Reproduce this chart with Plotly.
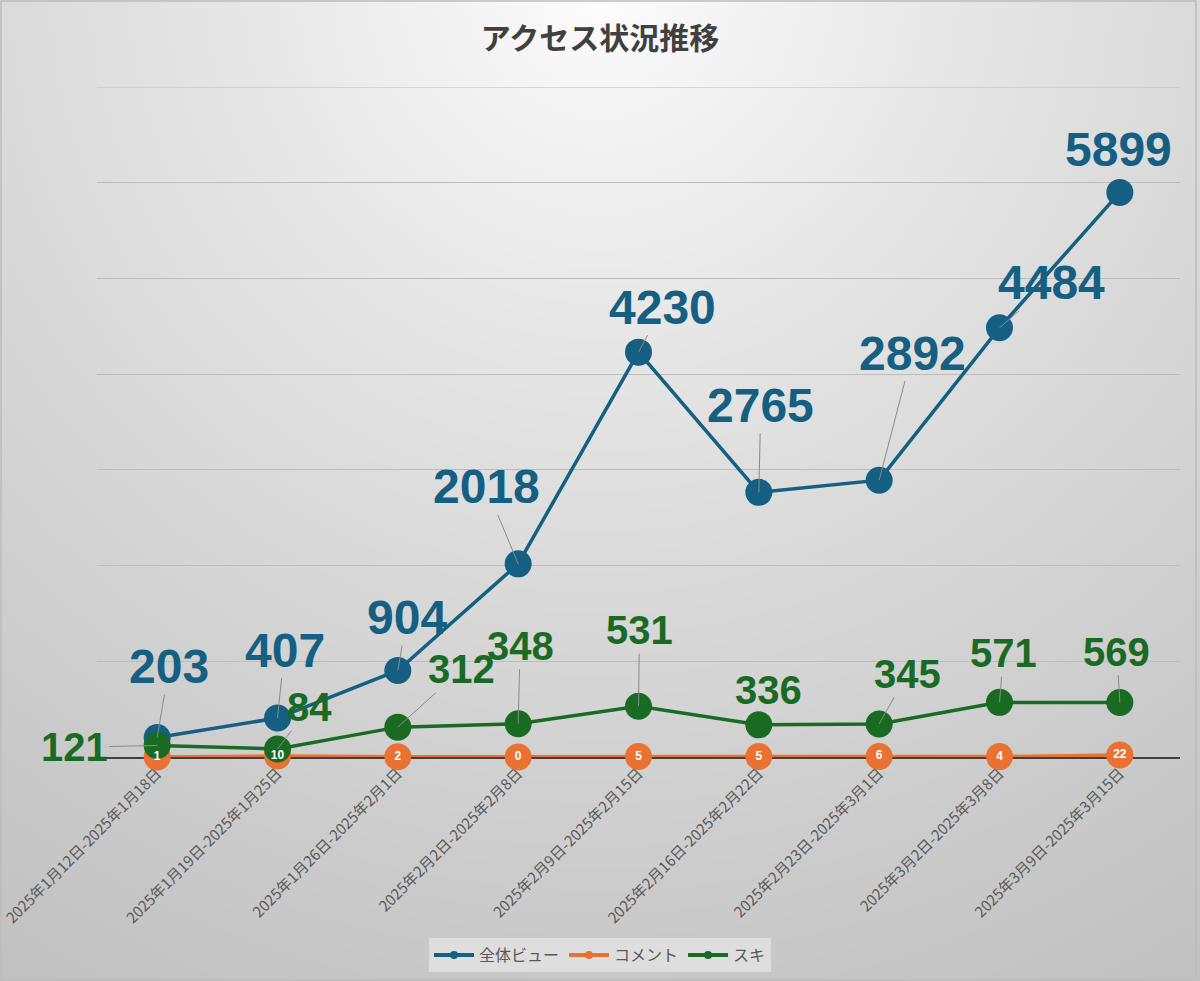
import math
import zlib
import struct
import base64
import plotly.graph_objects as go

# weekly periods
weeks = [
    "2025年1月12日-2025年1月18日",
    "2025年1月19日-2025年1月25日",
    "2025年1月26日-2025年2月1日",
    "2025年2月2日-2025年2月8日",
    "2025年2月9日-2025年2月15日",
    "2025年2月16日-2025年2月22日",
    "2025年2月23日-2025年3月1日",
    "2025年3月2日-2025年3月8日",
    "2025年3月9日-2025年3月15日",
]
views = [203, 407, 904, 2018, 4230, 2765, 2892, 4484, 5899]
comments = [1, 10, 2, 0, 5, 5, 6, 4, 22]
likes = [121, 84, 312, 348, 531, 336, 345, 571, 569]

# label offsets in px (label centre relative to the marker), leader line on/off
views_off = [(12, -71), (7, -68), (9, -53), (-32, -77), (24, -45),
             (2, -87), (33, -127), (52, -45), (-1, -43)]
views_leader = [True, True, True, True, True, True, True, True, False]
likes_off = [(-83, 2), (32, -42), (64, -58), (2, -78), (1, -76),
             (10, -35), (28, -50), (4, -49), (-3, -51)]
likes_leader = [True, True, True, True, True, False, True, True, True]

BLUE = "#156082"
ORANGE = "#E97132"
GREEN = "#196B24"
NUM_FONT = "Liberation Sans, Arial, sans-serif"
JP_FONT = "Noto Sans CJK JP, sans-serif"

W, H = 1200, 981
ML, MR, MT, MB = 97, 20, 87, 224
Y_MAX = 7000


def gradient_png(w, h):
    # radial grey gradient, white at the top centre
    rows = []
    for j in range(h):
        row = bytearray([0])
        for i in range(w):
            dx = (i + 0.5) / w * W - W / 2
            dy = (j + 0.5) / h * H + 20
            d = min(1.0, math.hypot(dx, dy) / 1150)
            g = int(round(255 - 62 * d ** 0.8))
            row += bytes((g, g, g))
        rows.append(bytes(row))
    raw = b"".join(rows)

    def chunk(tag, data):
        return (struct.pack(">I", len(data)) + tag + data
                + struct.pack(">I", zlib.crc32(tag + data) & 0xffffffff))

    png = (b"\x89PNG\r\n\x1a\n"
           + chunk(b"IHDR", struct.pack(">IIBBBBB", w, h, 8, 2, 0, 0, 0))
           + chunk(b"IDAT", zlib.compress(raw, 9))
           + chunk(b"IEND", b""))
    return "data:image/png;base64," + base64.b64encode(png).decode()


fig = go.Figure()

for name, vals, col in [("全体ビュー", views, BLUE),
                        ("コメント", comments, ORANGE),
                        ("スキ", likes, GREEN)]:
    fig.add_trace(go.Scatter(
        x=weeks, y=vals, mode="lines+markers", name=name,
        line=dict(color=col, width=3.5),
        marker=dict(color=col, size=27),
        cliponaxis=False, showlegend=False,
    ))
    # small legend entry
    fig.add_trace(go.Scatter(
        x=[None], y=[None], mode="lines+markers", name=name,
        line=dict(color=col, width=4), marker=dict(color=col, size=8),
    ))

# comment counts drawn inside the orange markers
fig.add_trace(go.Scatter(
    x=weeks, y=comments, mode="text", text=[str(v) for v in comments],
    textposition="middle center",
    textfont=dict(family=NUM_FONT, size=12, color="white", weight="bold"),
    cliponaxis=False, showlegend=False, hoverinfo="skip",
))

annotations = []
for vals, offs, leaders, col, size in [(views, views_off, views_leader, BLUE, 48),
                                       (likes, likes_off, likes_leader, GREEN, 40)]:
    for wk, v, (ax, ay), lead in zip(weeks, vals, offs, leaders):
        annotations.append(dict(
            x=wk, y=v, text=str(v), ax=ax, ay=ay,
            showarrow=True, arrowhead=0, arrowwidth=1, standoff=0,
            arrowcolor="#8a8a8a" if lead else "rgba(0,0,0,0)",
            font=dict(family=NUM_FONT, size=size, color=col, weight="bold"),
        ))

fig.update_layout(
    width=W, height=H,
    margin=dict(l=ML, r=MR, t=MT, b=MB, autoexpand=False),
    paper_bgcolor="#d0d0d0",
    plot_bgcolor="rgba(0,0,0,0)",
    title=dict(text="アクセス状況推移", x=0.5, xref="container", xanchor="center",
               y=1 - 38 / H, yanchor="middle",
               font=dict(family=JP_FONT, size=30, color="#404040", weight="bold")),
    xaxis=dict(type="category", range=[-0.5, 8.5], tickangle=-45, automargin=False,
               tickfont=dict(family=JP_FONT, size=15, color="#595959"),
               showgrid=False, ticks="", showline=True, linecolor="#404040",
               linewidth=1.5, layer="below traces"),
    yaxis=dict(range=[0, Y_MAX], dtick=1000, showticklabels=False, automargin=False,
               gridcolor="#bdbdbd", gridwidth=1, zeroline=False, ticks=""),
    legend=dict(orientation="h", xref="container", x=0.5, xanchor="center",
                yref="container", y=(H - 955) / H, yanchor="middle",
                bgcolor="rgba(228,228,228,0.8)", itemwidth=40,
                font=dict(family=JP_FONT, size=16, color="#595959")),
    annotations=annotations,
    images=[dict(source=gradient_png(300, 245), xref="paper", yref="paper",
                 x=-ML / (W - ML - MR), y=1 + MT / (H - MT - MB),
                 sizex=W / (W - ML - MR), sizey=H / (H - MT - MB),
                 xanchor="left", yanchor="top", sizing="stretch", layer="below")],
    shapes=[
        dict(type="rect", xref="paper", yref="paper",
             x0=-(ML - 1) / (W - ML - MR), x1=1 + (MR - 4) / (W - ML - MR),
             y0=-(MB - 1) / (H - MT - MB), y1=1 + (MT - 1) / (H - MT - MB),
             line=dict(color="#bcbcbc", width=1.5), layer="below"),
        # top gridline sits on the range edge, draw it explicitly
        dict(type="line", xref="paper", yref="y", x0=0, x1=1, y0=Y_MAX, y1=Y_MAX,
             line=dict(color="#bdbdbd", width=1), layer="below"),
    ],
)

fig.write_html("out.html",
               config={"displayModeBar": False},
               post_script="document.body.style.margin='0';"
                           "document.body.style.overflow='hidden';")
